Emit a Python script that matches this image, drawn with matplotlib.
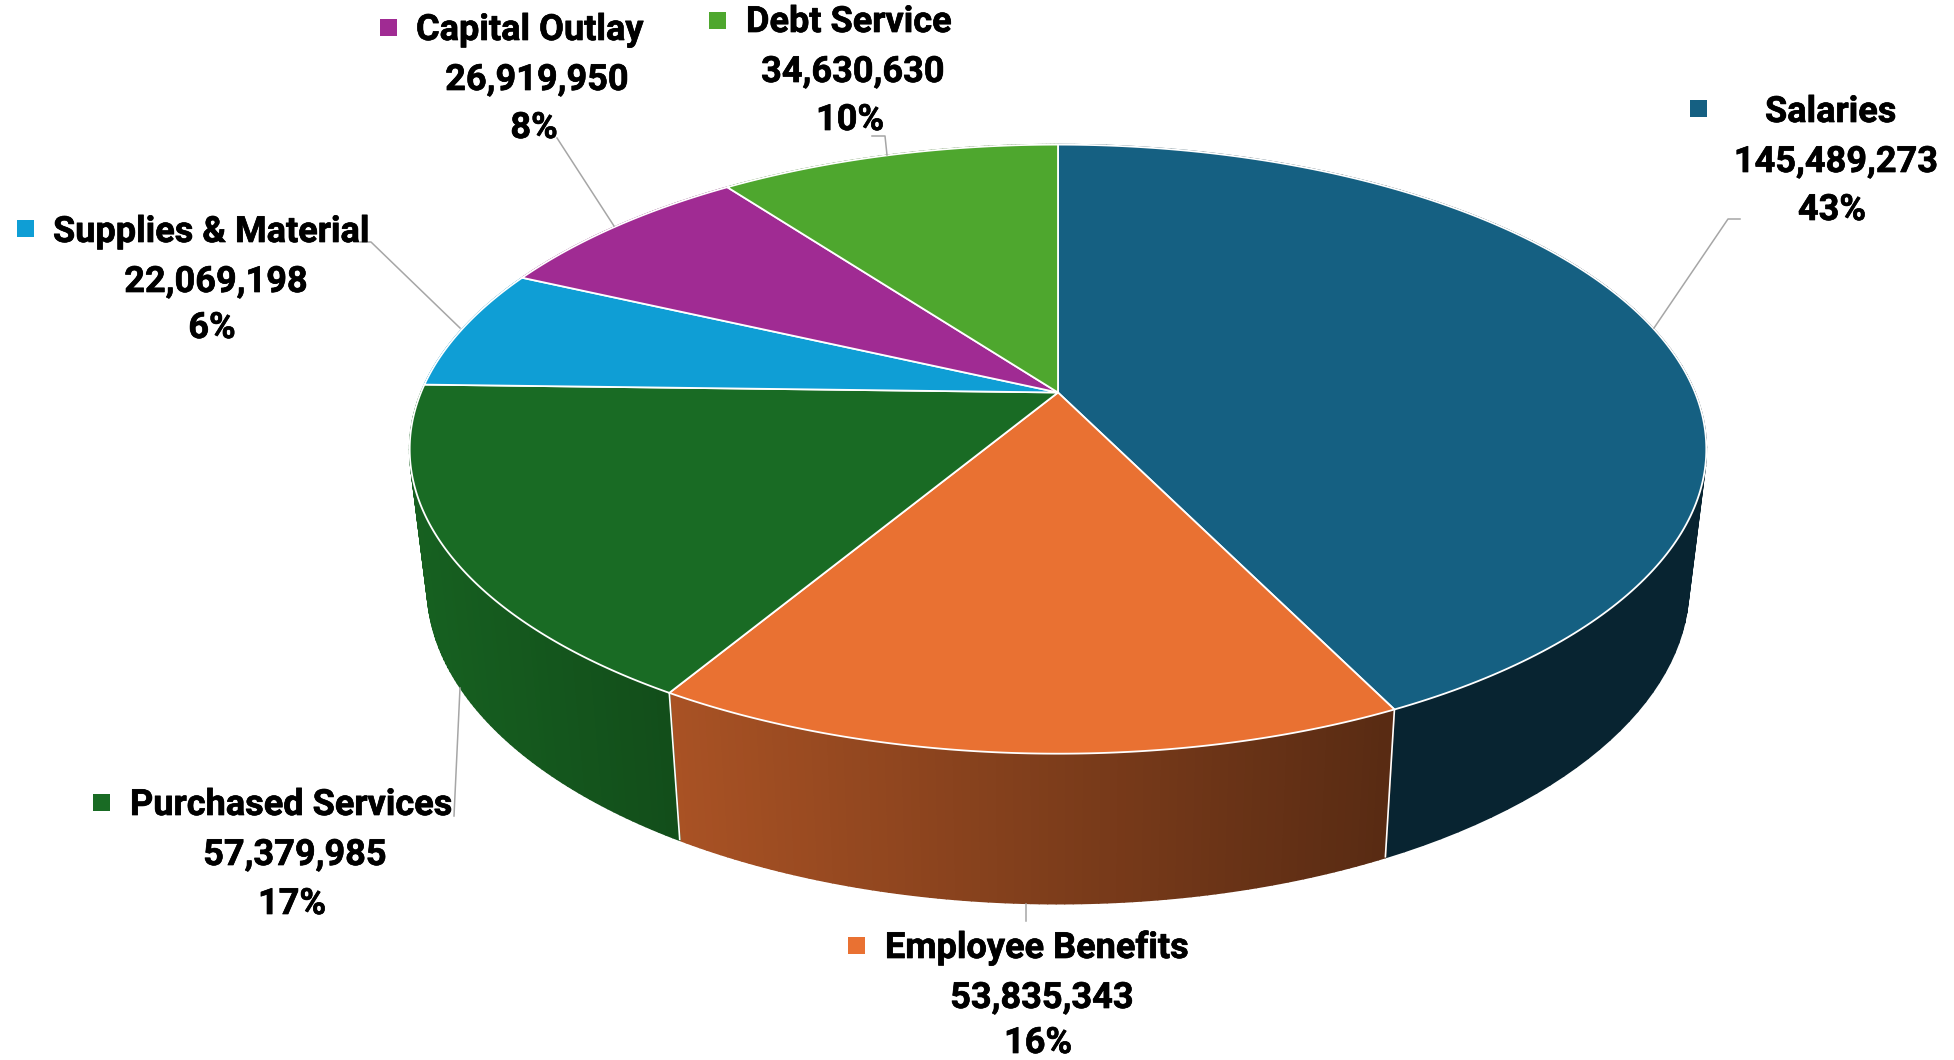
#!/usr/bin/env python3
"""
Budget breakdown by expenditure category, drawn as a tilted 3D-style pie.
"""
import matplotlib
matplotlib.use("Agg")
import matplotlib.patheffects as pe
import matplotlib.pyplot as plt
import numpy as np
from matplotlib.collections import PolyCollection
from matplotlib.patches import Polygon, Rectangle

CATEGORIES = ["Salaries", "Employee Benefits", "Purchased Services",
              "Supplies & Material", "Capital Outlay", "Debt Service"]
AMOUNTS = [145489273, 53835343, 57379985, 22069198, 26919950, 34630630]
COLORS = ["#156082", "#E97132", "#196B24", "#0F9ED5", "#A02B93", "#4EA72E"]

# Pie projection, in pixels of the 1954x1060 canvas
APEX_X = 1058.0
APEX_Y = 392.5
RADIUS_X = 637.0
RADIUS_Y = 294.0
TILT = 0.186
BASE_Y = 527.0
BASE_RADIUS_Y = 306.6
BASE_SHRINK = 0.973

# Label layout: name left edge, centre of value lines, baselines, key square
NAME_X = [1765, 885, 130, 53, 416, 746]
CENTER_X = [1836, 1042, 295, 216, 537, 853]
PERCENT_X = [1832, 1038, 292, 212, 534, 850]
BASELINES = [(122, 172, 220), (958, 1008, 1053), (815, 865, 914),
             (242, 292, 338), (40, 90, 138), (32, 82, 130)]
KEY_XY = [(1690, 100), (848, 937), (93, 794), (17, 220), (380, 19), (709, 12)]

LEADERS = [
    [(1740, 219), (1728, 219), (1654, 328)],
    [(1026, 904), (1026, 921)],
    [(454, 816), (460, 688)],
    [(360, 242), (371, 242), (460, 328)],
    [(557, 138), (614, 226)],
    [(872, 136), (885, 136), (887, 155)],
]

FONT = "Roboto"
FONT_SIZE = 26
LEADER_COLOR = "#A6A6A6"


def project_top(theta):
    """Map clockwise-from-north angles onto the top face."""
    u, v = np.sin(theta), np.cos(theta)
    d = 1 + TILT * v
    return APEX_X + RADIUS_X * u / d, APEX_Y - RADIUS_Y * v / d


def project_base(theta):
    """Same as project_top, for the lower rim of the disc."""
    u, v = np.sin(theta), np.cos(theta)
    d = 1 + TILT * v
    return APEX_X + BASE_SHRINK * RADIUS_X * u / d, BASE_Y - BASE_RADIUS_Y * v / d


def side_shade(x):
    """Lighting on the side wall: brighter to the left, dark to the right."""
    return np.interp(x, [420, 670, 1390, 1710], [0.90, 0.73, 0.38, 0.38])


def draw_side(ax, edges):
    polys, colors = [], []
    for i, color in enumerate(COLORS):
        rgb = np.array(matplotlib.colors.to_rgb(color))
        theta = np.linspace(edges[i], edges[i + 1], 90)
        tx, ty = project_top(theta)
        bx, by = project_base(theta)
        for j in range(len(theta) - 1):
            polys.append([(tx[j], ty[j]), (tx[j + 1], ty[j + 1]),
                          (bx[j + 1], by[j + 1]), (bx[j], by[j])])
            colors.append(rgb * side_shade((tx[j] + bx[j]) / 2))
    ax.add_collection(PolyCollection(polys, facecolors=colors, edgecolors=colors,
                                     linewidths=1.2, zorder=1))
    # Seams between neighbouring slices on the wall
    for edge in edges[:-1]:
        tx, ty = project_top(edge)
        bx, by = project_base(edge)
        ax.plot([tx, bx], [ty, by], color="white", lw=1.2, zorder=2,
                solid_capstyle="butt")


def draw_top(ax, edges):
    for i, color in enumerate(COLORS):
        theta = np.linspace(edges[i], edges[i + 1], 200)
        x, y = project_top(theta)
        pts = np.column_stack([np.r_[APEX_X, x], np.r_[APEX_Y, y]])
        ax.add_patch(Polygon(pts, closed=True, facecolor=color, edgecolor="white",
                             linewidth=1.3, joinstyle="round", zorder=3))


def draw_labels(ax, total):
    heavier = [pe.withStroke(linewidth=0.5, foreground="black")]
    for i, name in enumerate(CATEGORIES):
        line_y = BASELINES[i]
        common = dict(family=FONT, fontsize=FONT_SIZE, fontweight="bold", color="black",
                      va="baseline", zorder=5, path_effects=heavier)
        ax.text(NAME_X[i], line_y[0], name, ha="left", **common)
        ax.text(CENTER_X[i], line_y[1], f"{AMOUNTS[i]:,}", ha="center", **common)
        ax.text(PERCENT_X[i], line_y[2], f"{AMOUNTS[i] / total:.0%}", ha="center", **common)
        ax.add_patch(Rectangle(KEY_XY[i], 17, 17, facecolor=COLORS[i],
                               edgecolor="none", zorder=5))
        xs, ys = zip(*LEADERS[i])
        ax.plot(xs, ys, color=LEADER_COLOR, lw=1.1, zorder=4)


def main():
    fig = plt.figure(figsize=(19.54, 10.60), dpi=100)
    ax = fig.add_axes([0, 0, 1, 1])
    ax.set_xlim(0, 1954)
    ax.set_ylim(1060, 0)
    ax.axis("off")

    total = sum(AMOUNTS)
    edges = 2 * np.pi * np.r_[0, np.cumsum(AMOUNTS)] / total

    draw_side(ax, edges)
    draw_top(ax, edges)
    draw_labels(ax, total)

    fig.savefig("out.png", dpi=100, facecolor="white")
    plt.close(fig)


if __name__ == "__main__":
    main()
